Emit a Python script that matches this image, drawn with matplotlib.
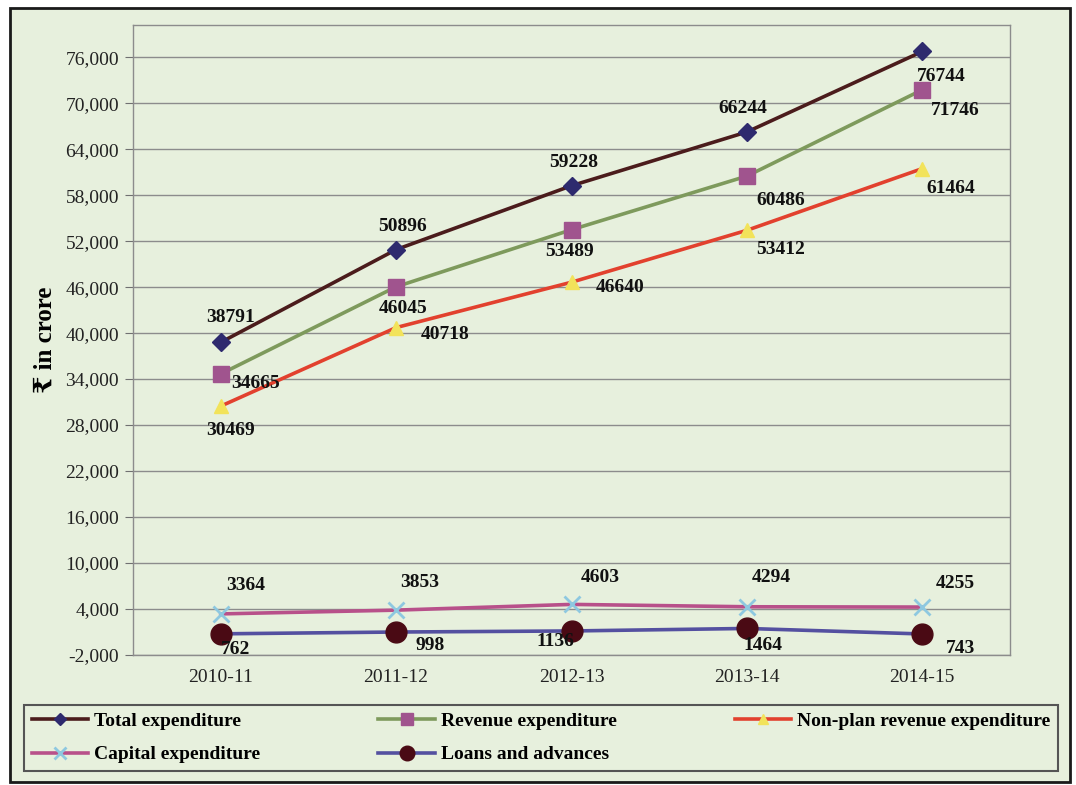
import matplotlib
import matplotlib.pyplot as plt
from matplotlib.patches import Rectangle
from matplotlib.ticker import FixedLocator, StrMethodFormatter

matplotlib.use("Agg")

years = ["2010-11", "2011-12", "2012-13", "2013-14", "2014-15"]
total_exp = [38791, 50896, 59228, 66244, 76744]
revenue_exp = [34665, 46045, 53489, 60486, 71746]
nonplan_exp = [30469, 40718, 46640, 53412, 61464]
capital_exp = [3364, 3853, 4603, 4294, 4255]
loans_adv = [762, 998, 1136, 1464, 743]
y_ticks = [-2000, 4000, 10000, 16000, 22000, 28000, 34000, 40000, 46000,
           52000, 58000, 64000, 70000, 76000]

plt.rcParams["font.family"] = ["Liberation Serif", "DejaVu Serif"]
plt.rcParams["axes.unicode_minus"] = False

BG = "#E7F0DD"
fig = plt.figure(figsize=(10.76, 7.85), dpi=100)
fig.patch.set_facecolor("white")
fig.patches.append(Rectangle((10 / 1076, 1 - 782 / 785), 1060 / 1076, 774 / 785,
                             transform=fig.transFigure, facecolor=BG,
                             edgecolor="#1a1a1a", lw=2, zorder=-10))

ax = fig.add_axes([133 / 1076, 1 - 655 / 785, 877 / 1076, 630 / 785])
ax.set_facecolor(BG)
x = list(range(len(years)))

series = [
    ("Total expenditure", total_exp, "#4B1C1C", "D", "#2E2A6E", 9),
    ("Revenue expenditure", revenue_exp, "#7E9A5C", "s", "#A0548E", 12),
    ("Non-plan revenue expenditure", nonplan_exp, "#E2412E", "^", "#F2E35A", 10),
    ("Capital expenditure", capital_exp, "#B8508A", "x", "#8EC8E0", 12),
    ("Loans and advances", loans_adv, "#5450A0", "o", "#4A0A14", 15),
]

# label offsets in pixels (dx, dy) per point
offsets = [
    [(10, 25), (6, 23), (2, 23), (-4, 23), (19, -25)],
    [(35, -10), (7, -22), (-2, -22), (34, -24), (33, -21)],
    [(10, -24), (49, -7), (49, -5), (34, -19), (28, -20)],
    [(25, 28), (24, 28), (29, 27), (24, 29), (33, 24)],
    [(15, -16), (34, -13), (-16, -11), (16, -17), (38, -15)],
]

handles = {}
for (name, vals, lc, mk, mc, ms), offs in zip(series, offsets):
    (ln,) = ax.plot(x, vals, color=lc, lw=2.6, marker=mk, markersize=ms,
                    markerfacecolor=mc, markeredgecolor=mc,
                    markeredgewidth=2 if mk == "x" else 1, zorder=3, label=name)
    handles[name] = ln
    for xi, v, (dx, dy) in zip(x, vals, offs):
        ax.annotate(str(v), (xi, v), xytext=(dx, dy), textcoords="offset pixels",
                    ha="center", va="center", fontsize=14, fontweight="bold",
                    color="#111111", zorder=4)

ax.set_xlim(-0.5, 4.5)
ax.set_ylim(-2000, 80200)
ax.yaxis.set_major_locator(FixedLocator(y_ticks))
ax.yaxis.set_major_formatter(StrMethodFormatter("{x:,.0f}"))
ax.set_xticks(x)
ax.set_xticklabels(years)
ax.tick_params(axis="y", length=6, color="#707070", labelsize=14, labelcolor="#222222", pad=4)
ax.tick_params(axis="x", length=0, labelsize=14, labelcolor="#222222", pad=10)
ax.grid(axis="y", color="#8c8c8c", lw=1)
ax.set_axisbelow(True)
for sp in ax.spines.values():
    sp.set_color("#8c8c8c")
    sp.set_linewidth(1)

ax.set_ylabel("₹ in crore", fontsize=18, fontweight="bold", labelpad=6)

order = ["Total expenditure", "Capital expenditure", "Revenue expenditure",
         "Loans and advances", "Non-plan revenue expenditure"]
leg = fig.legend([handles[n] for n in order], order, ncol=3, mode="expand",
                 loc="center",
                 bbox_to_anchor=(24 / 1076, 1 - 778 / 785, 1034 / 1076, 80 / 785),
                 prop={"size": 14, "weight": "bold"}, handlelength=2.9,
                 handletextpad=0.3, labelspacing=0.8, borderaxespad=0,
                 fancybox=False, facecolor=BG, edgecolor="#555555", framealpha=1,
                 markerscale=0.7)
leg.get_frame().set_linewidth(1.5)

fig.savefig("out.png", dpi=100, facecolor=fig.get_facecolor())
